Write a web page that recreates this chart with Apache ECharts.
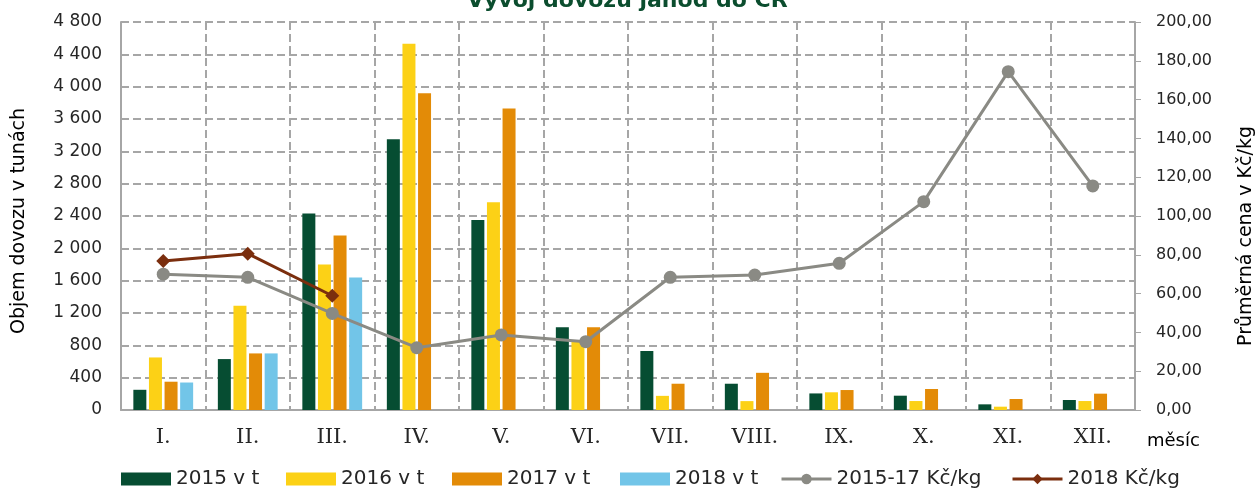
<!DOCTYPE html>
<html>
<head>
<meta charset="utf-8">
<title>Vývoj dovozu jahod do ČR</title>
<script src="https://cdn.jsdelivr.net/npm/echarts@6/dist/echarts.min.js"></script>
<style>
    html, body { margin: 0; padding: 0; background: #fff; }
    #chartCtn { width: 1255px; height: 488px; }
</style>
</head>
<body>
<div id="chartCtn"></div>
<script>
"use strict";
// 数据
var months = ['I.', 'II.', 'III.', 'IV.', 'V.', 'VI.', 'VII.', 'VIII.', 'IX.', 'X.', 'XI.', 'XII.'];
var tons2015 = [250, 630, 2430, 3350, 2350, 1025, 730, 325, 205, 177, 70, 124];
var tons2016 = [650, 1290, 1800, 4530, 2570, 845, 175, 110, 219, 111, 41, 111];
var tons2017 = [350, 700, 2160, 3920, 3730, 1025, 325, 460, 247, 260, 136, 202];
var tons2018 = [340, 700, 1640, null, null, null, null, null, null, null, null, null];
var price1517 = [70.0, 68.4, 49.8, 32.1, 38.7, 35.2, 68.4, 69.6, 75.6, 107.4, 174.4, 115.5];
var price2018 = [76.8, 80.6, 58.9, null, null, null, null, null, null, null, null, null];
var seriesNames = ['2015 v t', '2016 v t', '2017 v t', '2018 v t', '2015-17 Kč/kg', '2018 Kč/kg'];
var legendLeft = [116, 281, 447, 615, 775, 1006];

function import_chart(element) {
    var myChart = echarts.init(document.getElementById(element));
    var gridLine = { color: '#a6a6a6', width: 2, type: [8, 4] };

    // 每个图例单独定位
    var legends = seriesNames.map(function(name, i) {
        var item = { name: name };
        if (i < 4) {
            item.icon = 'rect';
        } else {
            item.lineStyle = { width: 3 };
        }
        return {
            data: [item],
            left: legendLeft[i],
            top: 464,
            itemWidth: 50,
            itemHeight: 13,
            selectedMode: false,
            textStyle: { fontFamily: 'DejaVu Sans', fontSize: 20, color: '#262626' }
        };
    });

    function barSeries(idx, data, color) {
        return {
            name: seriesNames[idx],
            type: 'bar',
            data: data,
            barWidth: 13,
            barGap: '20%',
            itemStyle: { color: color },
            emphasis: { disabled: true }
        };
    }

    var option = {
        backgroundColor: '#fff',
        animation: false,
        title: {
            text: 'Vývoj dovozu jahod do ČR',
            left: 462,
            top: -15,
            textStyle: { fontFamily: 'DejaVu Sans', fontWeight: 'bold', fontSize: 22, color: '#0b4d2e' }
        },
        legend: legends,
        grid: { left: 121, right: 120, top: 22, bottom: 78, outerBoundsMode: 'none' },
        xAxis: [{
            type: 'category',
            data: months,
            axisLine: { lineStyle: { color: '#a6a6a6', width: 2 } },
            axisTick: { show: false },
            splitLine: { show: true, lineStyle: gridLine },
            axisLabel: { fontFamily: 'DejaVu Serif', fontSize: 21, color: '#262626', margin: 17 }
        }],
        yAxis: [{
            type: 'value',
            min: 0,
            max: 4800,
            interval: 400,
            name: 'Objem dovozu v tunách',
            nameLocation: 'middle',
            nameGap: 92,
            nameRotate: 90,
            nameTextStyle: { fontFamily: 'DejaVu Sans', fontSize: 19, color: '#000', padding: [0, 10, 0, 0] },
            axisLine: { show: true, lineStyle: { color: '#a6a6a6', width: 2 } },
            axisTick: { show: false },
            splitLine: { lineStyle: gridLine },
            axisLabel: {
                fontFamily: 'DejaVu Sans',
                fontSize: 17,
                color: '#262626',
                margin: 19,
                formatter: function(v) {
                    return String(v).replace(/\B(?=(\d{3})+(?!\d))/g, ' ');
                }
            }
        }, {
            type: 'value',
            min: 0,
            max: 200,
            interval: 20,
            position: 'right',
            name: 'Průměrná cena v Kč/kg',
            nameLocation: 'middle',
            nameGap: 102,
            nameRotate: 90,
            nameTextStyle: { fontFamily: 'DejaVu Sans', fontSize: 19, color: '#000', padding: [0, 40, 0, 0] },
            axisLine: { show: true, lineStyle: { color: '#a6a6a6', width: 2 } },
            axisTick: { show: true, length: 6, lineStyle: { color: '#a6a6a6', width: 1 } },
            splitLine: { show: false },
            axisLabel: {
                fontFamily: 'DejaVu Sans',
                fontSize: 16,
                color: '#262626',
                margin: 21,
                formatter: function(v) {
                    return v.toFixed(2).replace('.', ',');
                }
            }
        }],
        graphic: [{
            type: 'text',
            left: 1147,
            top: 432,
            style: { text: 'měsíc', fontFamily: 'DejaVu Sans', fontSize: 18, fill: '#000' }
        }],
        series: [
            barSeries(0, tons2015, '#064d32'),
            barSeries(1, tons2016, '#fcd116'),
            barSeries(2, tons2017, '#e38b07'),
            barSeries(3, tons2018, '#72c5e8'),
            {
                name: seriesNames[4],
                type: 'line',
                yAxisIndex: 1,
                data: price1517,
                symbol: 'circle',
                symbolSize: 13,
                lineStyle: { color: '#8a8a84', width: 3 },
                itemStyle: { color: '#8a8a84' },
                emphasis: { disabled: true }
            },
            {
                name: seriesNames[5],
                type: 'line',
                yAxisIndex: 1,
                data: price2018,
                symbol: 'diamond',
                symbolSize: 14,
                lineStyle: { color: '#7b2e0e', width: 3 },
                itemStyle: { color: '#7b2e0e' },
                emphasis: { disabled: true }
            }
        ]
    };
    myChart.setOption(option);
}
import_chart('chartCtn'); //调用
</script>
</body>
</html>
